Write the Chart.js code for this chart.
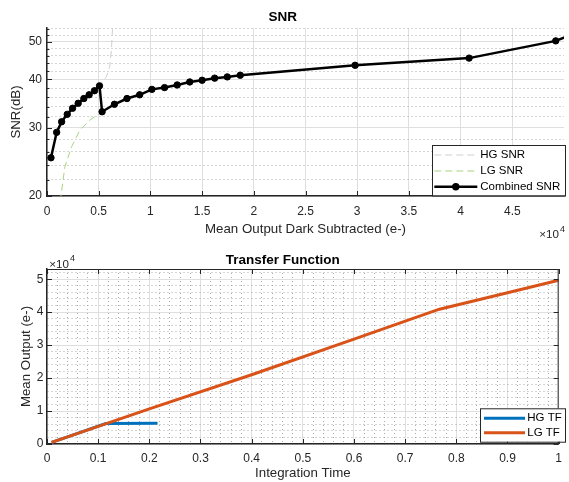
<!DOCTYPE html>
<html>
<head>
<meta charset="utf-8">
<script src="https://cdn.jsdelivr.net/npm/chart.js@4/dist/chart.umd.min.js"></script>
<style>
  html, body { margin: 0; padding: 0; background: #fff; }
  canvas { display: block; }
</style>
</head>
<body>
<canvas id="snr" width="569" height="241"></canvas>
<canvas id="tf" width="569" height="241"></canvas>
<script>
// ---- SNR plot data (x = mean output, e-; y = SNR, dB) ----
var hgSnrX = [385, 934, 1416, 1956, 2476, 3015, 3565, 4075, 4595, 5077, 5750, 6070, 6230, 6330, 6420];
var hgSnrY = [25.1, 29.2, 31.1, 32.5, 33.7, 34.7, 35.7, 36.5, 37.4, 38.5, 40.7, 43.2, 47.7, 53.7, 60];

var lgSnrX = [1000, 1350, 1730, 2380, 3180, 4140, 5328, 6522, 7736, 8960, 10145, 11368, 12590, 13805, 15000, 16214, 17437, 18690, 29800, 40820, 49200, 52000];
var lgSnrY = [17.0, 20.0, 23.8, 26.8, 29.6, 31.4, 33.0, 34.5, 35.7, 36.5, 37.7, 38.1, 38.7, 39.4, 39.8, 40.3, 40.6, 41.0, 43.5, 45.4, 50.3, 53.8];

var combX = [385, 934, 1416, 1956, 2476, 3015, 3565, 4075, 4595, 5077, 5328, 6522, 7736, 8960, 10145, 11368, 12590, 13805, 15000, 16214, 17437, 18690, 29800, 40820, 49200, 52000];
var combY = [25.1, 29.2, 31.1, 32.5, 33.7, 34.7, 35.7, 36.5, 37.4, 38.5, 33.0, 34.5, 35.7, 36.5, 37.7, 38.1, 38.7, 39.4, 39.8, 40.3, 40.6, 41.0, 43.5, 45.4, 50.3, 53.8];

var snrXTicks = [0, 5000, 10000, 15000, 20000, 25000, 30000, 35000, 40000, 45000];
var snrXLabels = ['0', '0.5', '1', '1.5', '2', '2.5', '3', '3.5', '4', '4.5'];
var snrYMajor = [20, 30, 40, 50];
var snrYMinor = [22, 24, 26, 28, 32, 34, 36, 38, 42, 44, 46, 48, 52, 54];

// ---- transfer function data (x = integration time, y = mean output e-) ----
var hgTfT = [0.009, 0.05, 0.1, 0.115, 0.216];
var hgTfY = [500, 2700, 5400, 6200, 6280];

var lgTfT = [0.009, 0.2, 0.4, 0.6, 0.767, 0.9, 1.0];
var lgTfY = [500, 10650, 21000, 31800, 40900, 45900, 49700];

var tfXLabels = ['0', '0.1', '0.2', '0.3', '0.4', '0.5', '0.6', '0.7', '0.8', '0.9', '1'];
var tfYLabels = ['0', '1', '2', '3', '4', '5'];

var fam = "'Liberation Sans', Arial, Helvetica, sans-serif";
Chart.defaults.font.family = fam;
Chart.defaults.color = '#262626';

function pts(xs, ys) {
  return xs.map(function (x, i) { return {x: x, y: ys[i]}; });
}
function gridColor(c) { return c.tick && !c.tick.major ? '#ababab' : '#dfdfdf'; }
function gridDash(c) { return c.tick && !c.tick.major ? [1, 3] : []; }

function line(ctx, x1, y1, x2, y2) {
  ctx.beginPath(); ctx.moveTo(x1, y1); ctx.lineTo(x2, y2); ctx.stroke();
}

// matlab-ish decorations: inward ticks, box, x10^4 and the legend
var decor = {
  id: 'decor',
  afterDraw: function (chart, args, o) {
    var ctx = chart.ctx, a = chart.chartArea;
    var xs = chart.scales.x, ys = chart.scales.y;
    ctx.save();
    ctx.strokeStyle = '#262626';
    ctx.lineWidth = 1;
    if (o.box) {
      line(ctx, a.left, a.top + 0.5, a.right, a.top + 0.5);
      line(ctx, a.right - 0.5, a.top, a.right - 0.5, a.bottom);
    }
    xs.ticks.forEach(function (t) {
      if (!t.major) return;
      var p = Math.round(xs.getPixelForValue(t.value)) + 0.5;
      line(ctx, p, a.bottom, p, a.bottom - 5);
      if (o.box) line(ctx, p, a.top, p, a.top + 5);
    });
    ys.ticks.forEach(function (t) {
      var len = t.major ? 5 : (o.minorY ? 2.5 : 0);
      if (!len) return;
      var p = Math.round(ys.getPixelForValue(t.value)) + 0.5;
      line(ctx, a.left, p, a.left + len, p);
      if (o.box) line(ctx, a.right, p, a.right - len, p);
    });

    // exponent label
    var e = o.exp;
    ctx.fillStyle = '#262626';
    ctx.textBaseline = 'alphabetic';
    ctx.font = '11.6px ' + fam;
    var w10 = ctx.measureText('\u00d710').width;
    ctx.font = '9px ' + fam;
    var w4 = ctx.measureText('4').width;
    var x0 = e.align === 'right' ? e.x - w4 - 1 - w10 : e.x;
    ctx.font = '11.6px ' + fam;
    ctx.textAlign = 'left';
    ctx.fillText('\u00d710', x0, e.y);
    ctx.font = '9px ' + fam;
    ctx.fillText('4', x0 + w10 + 1, e.y - 6.6);

    // legend
    var L = o.legend;
    ctx.fillStyle = '#fff';
    ctx.fillRect(L.x, L.y, L.w, L.h);
    ctx.strokeStyle = '#262626';
    ctx.lineWidth = 1;
    ctx.strokeRect(L.x + 0.5, L.y + 0.5, L.w, L.h);
    ctx.font = '11.5px ' + fam;
    ctx.textBaseline = 'middle';
    chart.data.datasets.forEach(function (d, i) {
      var yy = L.y + L.rows[i];
      ctx.strokeStyle = d.borderColor;
      ctx.lineWidth = d.borderWidth;
      ctx.setLineDash(d.borderDash || []);
      line(ctx, L.x + L.s0, yy, L.x + L.s1, yy);
      ctx.setLineDash([]);
      if (d.pointRadius) {
        ctx.beginPath();
        ctx.arc(L.x + (L.s0 + L.s1) / 2, yy, d.pointRadius + 0.5, 0, Math.PI * 2);
        ctx.fillStyle = d.pointBackgroundColor;
        ctx.fill();
      }
      ctx.fillStyle = '#000';
      ctx.fillText(d.label, L.x + L.t, yy);
    });
    ctx.restore();
  }
};

new Chart(document.getElementById('snr'), {
  type: 'line',
  data: {
    datasets: [
      {label: 'HG SNR', data: pts(hgSnrX, hgSnrY), borderColor: '#cfcfcf', borderWidth: 1,
       borderDash: [7, 4], pointRadius: 0, tension: 0, order: 2},
      {label: 'LG SNR', data: pts(lgSnrX, lgSnrY), borderColor: '#a9d37f', borderWidth: 1,
       borderDash: [7, 4], pointRadius: 0, tension: 0, order: 1},
      {label: 'Combined SNR', data: pts(combX, combY), borderColor: '#000', borderWidth: 2.5,
       pointRadius: 3.2, pointBorderWidth: 1, pointBackgroundColor: '#000', pointBorderColor: '#000',
       tension: 0, order: 0}
    ]
  },
  options: {
    responsive: false,
    animation: false,
    events: [],
    layout: {padding: {left: 0, right: 3.5, top: 0, bottom: 0}},
    plugins: {
      legend: {display: false},
      tooltip: {enabled: false},
      title: {display: true, text: 'SNR', color: '#000', font: {size: 13.5, weight: 'bold'},
              padding: {top: 9.6, bottom: 2.2}},
      decor: {
        box: false, minorY: true,
        exp: {x: 565, y: 238.3, align: 'right'},
        legend: {x: 432, y: 145, w: 133, h: 50.5, rows: [10, 26, 41.7], s0: 2.3, s1: 45.3, t: 48.3}
      }
    },
    scales: {
      x: {
        type: 'linear', min: 0, max: 50000,
        afterBuildTicks: function (s) { s.ticks = snrXTicks.map(function (v) { return {value: v, major: true}; }); },
        afterFit: function (s) { s.height = 45; },
        ticks: {autoSkip: false, maxRotation: 0, minRotation: 0, padding: 8, font: {size: 12},
                callback: function (v) { return snrXLabels[snrXTicks.indexOf(v)]; }},
        grid: {color: gridColor, drawTicks: false, lineWidth: 1},
        border: {color: '#262626', width: 1.5, dash: gridDash},
        title: {display: true, text: 'Mean Output Dark Subtracted (e-)', font: {size: 13.3},
                padding: {top: 0, bottom: 3.6}}
      },
      y: {
        type: 'logarithmic', min: 20, max: 54.3,
        afterBuildTicks: function (s) {
          s.ticks = snrYMajor.concat(snrYMinor).sort(function (a, b) { return a - b; })
            .map(function (v) { return {value: v, major: snrYMajor.indexOf(v) >= 0}; });
        },
        afterFit: function (s) { s.width = 47; },
        ticks: {autoSkip: false, padding: 5, font: {size: 12},
                callback: function (v) { return snrYMajor.indexOf(v) >= 0 ? String(v) : ''; }},
        grid: {color: gridColor, drawTicks: false, lineWidth: 1},
        border: {color: '#262626', width: 1.5, dash: gridDash},
        title: {display: true, text: 'SNR(dB)', font: {size: 13.3}, padding: {top: 8.5, bottom: 0}}
      }
    }
  },
  plugins: [decor]
});

new Chart(document.getElementById('tf'), {
  type: 'line',
  data: {
    datasets: [
      {label: 'HG TF', data: pts(hgTfT, hgTfY), borderColor: '#0072BD', borderWidth: 3,
       pointRadius: 0, tension: 0, order: 1},
      {label: 'LG TF', data: pts(lgTfT, lgTfY), borderColor: '#D95319', borderWidth: 3,
       pointRadius: 0, tension: 0, order: 0}
    ]
  },
  options: {
    responsive: false,
    animation: false,
    events: [],
    layout: {padding: {left: 0, right: 3.5, top: 0, bottom: 0}},
    plugins: {
      legend: {display: false},
      tooltip: {enabled: false},
      title: {display: true, text: 'Transfer Function', color: '#000', font: {size: 13.5, weight: 'bold'},
              padding: {top: 11.6, bottom: 0.2}},
      decor: {
        box: true, minorY: false,
        exp: {x: 49.3, y: 27, align: 'left'},
        legend: {x: 480, y: 167.3, w: 85, h: 33.4, rows: [10, 24.4], s0: 4, s1: 45, t: 47.3}
      }
    },
    scales: {
      x: {
        type: 'linear', min: 0, max: 1,
        afterBuildTicks: function (s) {
          var t = [];
          for (var i = 0; i <= 50; i++) t.push({value: i / 50, major: i % 5 === 0});
          s.ticks = t;
        },
        afterFit: function (s) { s.height = 38; },
        ticks: {autoSkip: false, maxRotation: 0, minRotation: 0, padding: 7, font: {size: 12},
                callback: function (v, i) { return i % 5 === 0 ? tfXLabels[i / 5] : ''; }},
        grid: {color: gridColor, drawTicks: false, lineWidth: 1},
        border: {color: '#262626', width: 1.5, dash: gridDash},
        title: {display: true, text: 'Integration Time', font: {size: 13.3}, padding: {top: 0, bottom: 0.3}}
      },
      y: {
        type: 'linear', min: 0, max: 53100,
        afterBuildTicks: function (s) {
          var t = [];
          for (var i = 0; i <= 26; i++) t.push({value: i * 2000, major: i % 5 === 0});
          s.ticks = t;
        },
        afterFit: function (s) { s.width = 47; },
        ticks: {autoSkip: false, padding: 3.5, font: {size: 12},
                callback: function (v, i) { return i % 5 === 0 ? tfYLabels[i / 5] : ''; }},
        grid: {color: gridColor, drawTicks: false, lineWidth: 1},
        border: {color: '#262626', width: 1.5, dash: gridDash},
        title: {display: true, text: 'Mean Output (e-)', font: {size: 13.3}, padding: {top: 18.8, bottom: 0}}
      }
    }
  },
  plugins: [decor]
});
</script>
</body>
</html>
